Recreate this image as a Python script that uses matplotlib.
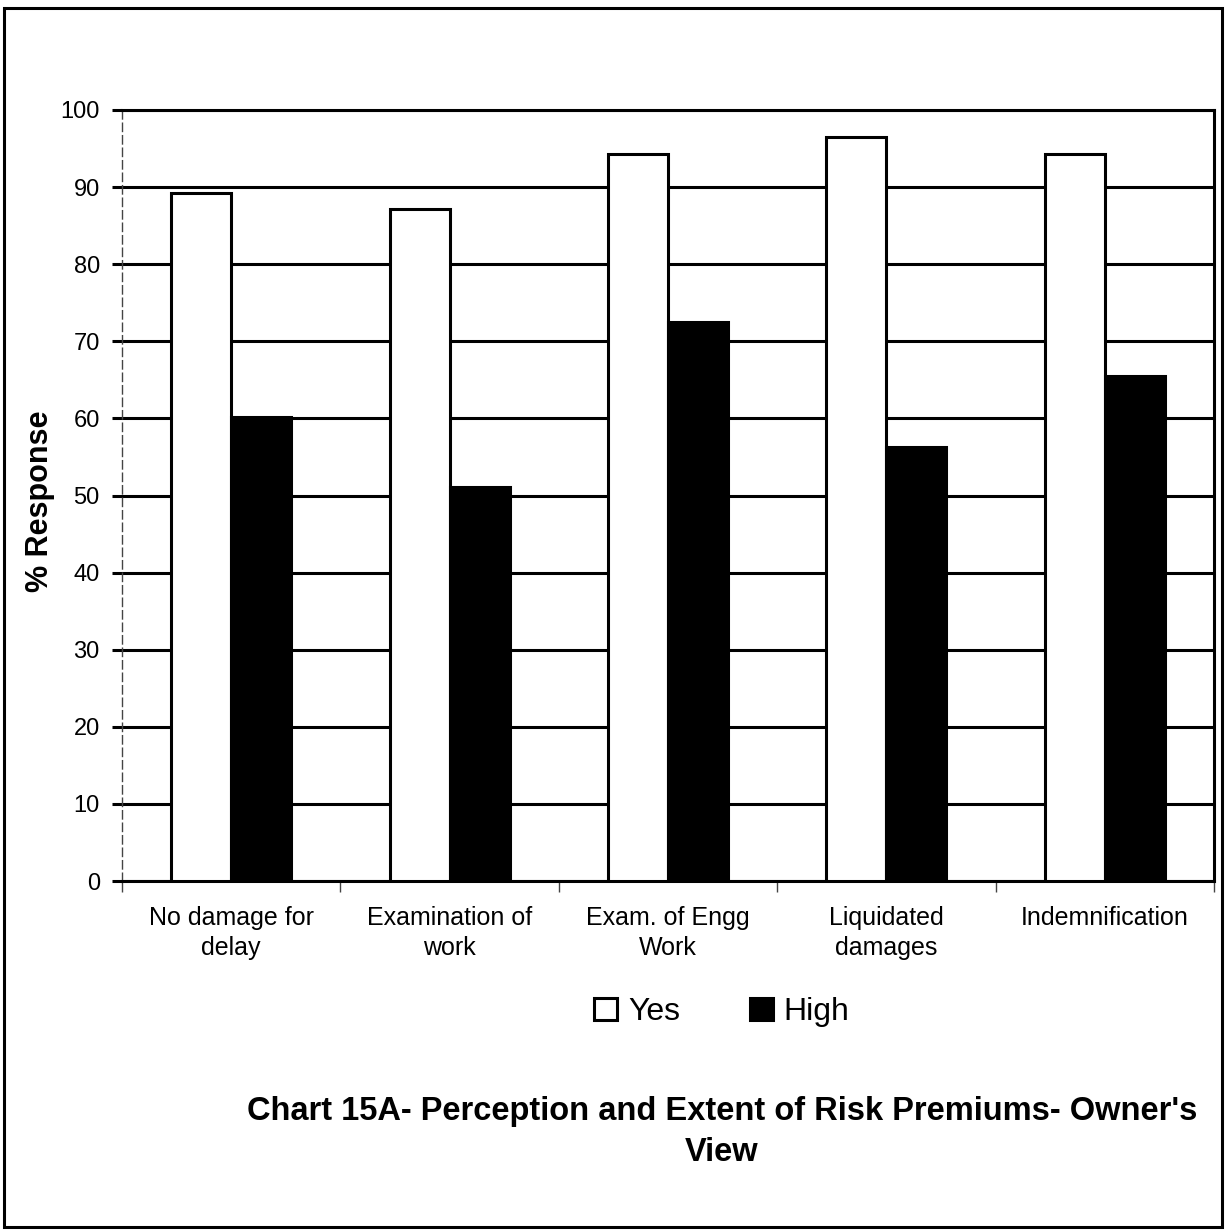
import numpy as np
import matplotlib.pyplot as plt
from matplotlib.patches import Rectangle

# ---- data ----
categories = ["No damage for\ndelay", "Examination of\nwork", "Exam. of Engg\nWork",
              "Liquidated\ndamages", "Indemnification"]
yes_vals  = [89.2, 87.2, 94.3, 96.5, 94.3]
high_vals = [60.2, 51.1, 72.5, 56.3, 65.5]
y_ticks   = [0, 10, 20, 30, 40, 50, 60, 70, 80, 90, 100]

plt.rcParams['font.family'] = ['Liberation Sans', 'DejaVu Sans']

W, H = 1226, 1231
fig = plt.figure(figsize=(W / 100, H / 100), dpi=100)
fig.patch.set_facecolor('white')
# plot area in pixels: x 122..1214, y 110..881
ax = fig.add_axes([122 / W, 1 - 881 / H, (1214 - 122) / W, (881 - 110) / H])

x = np.arange(len(categories))
width = 0.275

ax.bar(x - width / 2, yes_vals, width, color='white', edgecolor='black',
       linewidth=2.2, label='Yes', zorder=3)
ax.bar(x + width / 2, high_vals, width, color='black', edgecolor='black',
       linewidth=2.2, label='High', zorder=3)

ax.set_xlim(-0.5, len(categories) - 0.5)
ax.set_ylim(0, 100)
ax.set_yticks(y_ticks)
ax.set_yticklabels([str(t) for t in y_ticks], fontsize=17)
ax.yaxis.grid(True, color='black', linewidth=2.2, zorder=0)
ax.tick_params(axis='y', length=7, width=2.2, direction='out', pad=9)

ax.set_xticks(x)
ax.set_xticklabels(categories, fontsize=18, linespacing=1.3)
ax.tick_params(axis='x', length=0, pad=18)
ax.set_xticks(np.arange(-0.5, len(categories) + 0.5, 1), minor=True)
ax.tick_params(axis='x', which='minor', length=8, width=1, direction='out', color='#444444')

ax.spines['left'].set_linestyle((0, (6, 3)))
ax.spines['left'].set_linewidth(1)
ax.spines['left'].set_color('#444444')
ax.spines['bottom'].set_linewidth(2.2)
ax.spines['top'].set_linewidth(2.2)
ax.spines['right'].set_linewidth(2.2)

fig.text(40 / W, 1 - 501 / H, '% Response', rotation=90, ha='center', va='center',
         fontsize=22, fontweight='bold')

fig.legend(loc='center', bbox_to_anchor=(722 / W, 1 - 1012 / H), ncol=2, frameon=False,
           fontsize=23, handlelength=0.7, handleheight=0.7, columnspacing=2.2,
           handletextpad=0.35)

fig.text(722 / W, 1 - 1132 / H,
         "Chart 15A- Perception and Extent of Risk Premiums- Owner's\nView",
         ha='center', va='center', fontsize=23.5, fontweight='bold', linespacing=1.45)

fig.patches.append(Rectangle((4 / W, 4 / H), 1218 / W, 1219 / H, transform=fig.transFigure,
                             fill=False, edgecolor='black', linewidth=2.2))

plt.savefig('out.png', dpi=100, facecolor='white')
plt.close()
